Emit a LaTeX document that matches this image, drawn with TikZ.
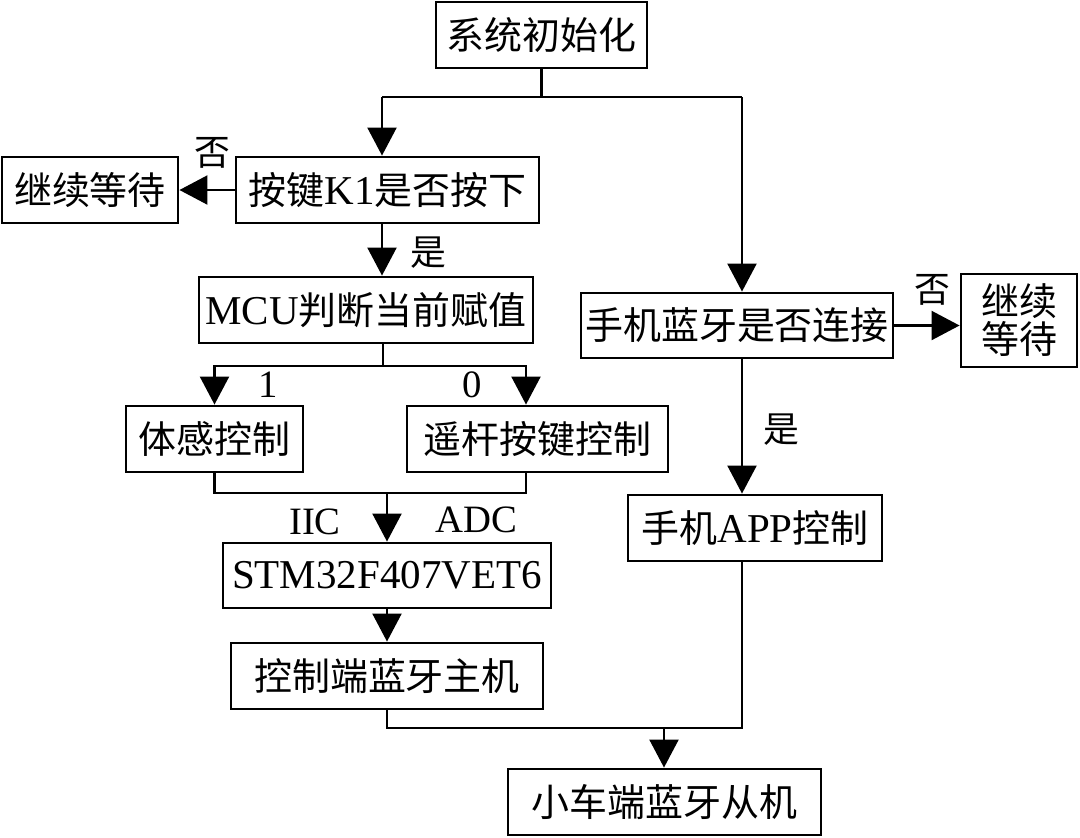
\documentclass[tikz,border=0pt]{standalone}
\usepackage{fontspec}
\setmainfont{Liberation Serif}[Scale=1.08]
\newfontfamily\zhfont{Noto Sans CJK SC}
\usetikzlibrary{arrows.meta}
\tikzset{
  box/.style={draw,line width=2pt,inner sep=0pt,align=center,font=\fontsize{27}{27}\selectfont},
  ln/.style={line width=2pt},
  ar/.style={-{Triangle[length=0.7cm,width=0.72cm]},line width=2pt},
  lab/.style={inner sep=0pt,font=\fontsize{25.5}{26}\selectfont}
}
\begin{document}
\begin{tikzpicture}[x=0.025cm,y=-0.025cm]
\useasboundingbox (0,0) rectangle (1080,837);
% left branch
\node[box,minimum width=5.275cm,minimum height=1.65cm] (init) at (541.5,35) {\zhfont 系统初始化};
\node[box,minimum width=7.575cm,minimum height=1.65cm] (k1) at (387.5,190) {{\zhfont 按键}K1{\zhfont 是否按下}};
\node[box,minimum width=4.4cm,minimum height=1.65cm] (waitL) at (90,190) {\zhfont 继续等待};
\node[box,minimum width=8.35cm,minimum height=1.65cm] (mcu) at (366,310) {MCU{\zhfont 判断当前赋值}};
\node[box,minimum width=4.425cm,minimum height=1.65cm] (motion) at (214.5,439) {\zhfont 体感控制};
\node[box,minimum width=6.525cm,minimum height=1.65cm] (joy) at (537.5,439) {\zhfont 遥杆按键控制};
\node[box,minimum width=8.2cm,minimum height=1.625cm] (stm) at (387,575.5) {STM32F407VET6};
\node[box,minimum width=7.8cm,minimum height=1.65cm] (host) at (387,676) {\zhfont 控制端蓝牙主机};
\node[box,minimum width=7.825cm,minimum height=1.65cm] (slave) at (664.5,802) {\zhfont 小车端蓝牙从机};
% right branch
\node[box,minimum width=7.8cm,minimum height=1.625cm] (bt) at (737,325.5) {\zhfont 手机蓝牙是否连接};
\node[box,minimum width=2.9cm,minimum height=2.325cm] (waitR) at (1019,320.5) {\zhfont 继续\\\zhfont 等待};
\node[box,minimum width=6.35cm,minimum height=1.65cm] (app) at (755,528) {{\zhfont 手机}APP{\zhfont 控制}};
% junctions
\coordinate (jL) at (382,97);
\coordinate (jR) at (742,97);
\coordinate (jM) at (383,366);
\coordinate (jB) at (526,366);
\coordinate (jC) at (387,493);
\coordinate (jD) at (664,728);
% connectors
\draw[ln] (init.south) |- (jL);
\draw[ln] (init.south) |- (jR);
\draw[ar] (jL) -- (jL |- k1.north);
\draw[ar] (jR) -- (jR |- bt.north);
\draw[ar] (k1.west) -- (waitL.east);
\draw[ar] (k1.south -| jL) -- (mcu.north -| jL);
\draw[ln] (mcu.south -| jM) -- (jM);
\draw[ar] (jM) -| (motion.north);
\draw[ar] (jM) -| (jB |- joy.north);
\draw[ln] (motion.south) |- (jB |- jC) -- (jB |- joy.south);
\draw[ar] (jC) -- (jC |- stm.north);
\draw[ar] (stm.south) -- (host.north);
\draw[ln] (host.south) |- (jR |- jD) -- (jR |- app.south);
\draw[ar] (jD) -- (jD |- slave.north);
\draw[ar] (jR |- bt.south) -- (jR |- app.north);
\draw[ar] (bt.east) -- (bt.east -| waitR.west);
% labels
\node[lab] (noL) at (212,153) {\zhfont 否};
\node[lab] (yesL) at (428,253) {\zhfont 是};
\node[lab] (one) at (268,385) {1};
\node[lab] (zero) at (472,385) {0};
\node[lab] (iic) at (315,522) {IIC};
\node[lab] (adc) at (476,520) {ADC};
\node[lab] (yesR) at (781,430) {\zhfont 是};
\node[lab] (noR) at (932,290) {\zhfont 否};
\end{tikzpicture}
\end{document}
